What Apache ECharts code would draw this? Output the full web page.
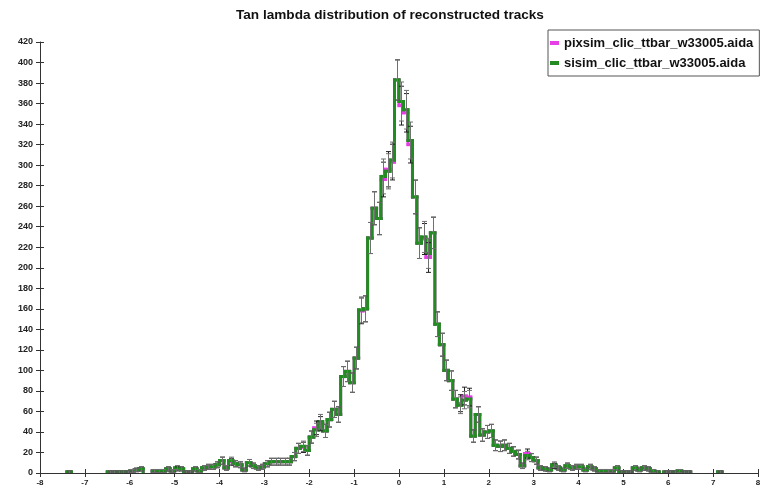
<!DOCTYPE html>
<html><head><meta charset="utf-8">
<script src="https://cdn.jsdelivr.net/npm/echarts@6/dist/echarts.min.js"></script>
<style>html,body{margin:0;padding:0;background:#fff}#c{width:768px;height:490px}</style>
</head><body><div id="c"></div>
<script>
// Histogram binning (bin edges from -8 to 8, width 0.1)
const binStart = -8;
const binWidth = 0.1;
const seriesNames = ['pixsim_clic_ttbar_w33005.aida', 'sisim_clic_ttbar_w33005.aida'];
const titleText = 'Tan lambda distribution of reconstructed tracks';

// counts per bin, bins starting at -8.0, -7.9, ... 7.9
const sisim = [
  0,0,0,0,0,0,1,0,0,0,          // -8.0 .. -7.1
  0,0,0,0,0,1,1,1,1,1,          // -7.0 .. -6.1
  2,3,4,0,0,2,2,2,4,2,          // -6.0 .. -5.1
  5,4,1,1,4,2,5,6,6,8,          // -5.0 .. -4.1
  12,5,12,9,8,3,10,7,5,6,       // -4.0 .. -3.1
  9,11,11,11,11,11,16,24,26,22, // -3.0 .. -2.1
  35,42,50,41,52,62,57,94,99,88,        // -2.0 .. -1.1
  112,159,160,229,258,248,289,294,305,383, // -1.0 .. -0.1
  362,354,324,269,224,230,214,234,145,125, // 0.0 .. 0.9
  100,90,72,66,71,72,36,57,37,40,       // 1.0 .. 1.9
  41,27,26,27,24,21,18,7,17,15,         // 2.0 .. 2.9
  12,5,4,3,8,5,3,7,5,6,                 // 3.0 .. 3.9
  6,3,6,4,2,2,2,2,5,1,                  // 4.0 .. 4.9
  1,1,5,3,5,4,2,1,0,1,                  // 5.0 .. 5.9
  1,1,2,1,1,0,0,0,0,0,                  // 6.0 .. 6.9
  0,1,0,0,0,0,0,0,0,0                   // 7.0 .. 7.9
];
const pixsim = [
  0,0,0,0,0,0,1,0,0,0,
  0,0,0,0,0,1,1,1,1,1,
  2,3,4,0,0,2,2,2,4,2,
  4,4,1,1,4,2,5,6,6,8,
  12,5,11,9,8,3,10,7,5,6,
  9,11,11,11,11,11,16,24,25,22,
  35,44,48,41,52,62,57,94,99,88,
  112,158,160,229,258,248,286,296,303,383,
  358,351,320,269,224,228,210,234,145,125,
  100,90,72,68,75,74,36,57,37,40,
  41,27,26,27,24,21,18,7,19,15,
  12,5,4,3,7,5,3,7,5,6,
  6,3,6,4,2,2,2,2,5,1,
  1,1,5,3,5,4,2,1,0,1,
  1,1,2,1,1,0,0,0,0,0,
  0,1,0,0,0,0,0,0,0,0
];

const xMin = -8, xMax = 8, xInterval = 1;
const yMin = 0, yMax = 420, yInterval = 20;

const colors = { pixsim: '#e83ee8', sisim: '#228b22', errPix: '#222222', errSi: '#707070' };

function histSeries(name, values, color, z) {
  const data = values.map((v, i) => [binStart + i * binWidth, binStart + (i + 1) * binWidth, v, i > 0 ? values[i - 1] : 0]);
  return {
    type: 'custom', name: name, z: z, data: data, clip: true,
    encode: { x: [0, 1], y: [2, 3] },
    itemStyle: { color: color },
    renderItem: function (params, api) {
      const x0 = api.value(0), x1 = api.value(1), v = api.value(2), vp = api.value(3);
      const children = [];
      const st = () => ({ stroke: color, lineWidth: 3, lineCap: 'square', fill: null });
      if (v > 0) {
        const a = api.coord([x0, v]), b = api.coord([x1, v]);
        children.push({ type: 'line', shape: { x1: a[0], y1: a[1], x2: b[0], y2: b[1] }, style: st() });
      }
      if (v !== vp && (v > 0 || vp > 0)) {
        const a = api.coord([x0, vp]), b = api.coord([x0, v]);
        children.push({ type: 'line', shape: { x1: a[0], y1: a[1], x2: b[0], y2: b[1] }, style: st() });
      }
      return { type: 'group', children: children };
    }
  };
}

function errSeries(name, values, color, z) {
  const data = values.map((v, i) => [binStart + (i + 0.5) * binWidth, v, Math.sqrt(v)]);
  return {
    type: 'custom', name: name, z: z, data: data, clip: true,
    encode: { x: 0, y: 1 },
    renderItem: function (params, api) {
      const x = api.value(0), v = api.value(1), e = api.value(2);
      if (!(v > 0)) return { type: 'group', children: [] };
      const lo = api.coord([x, v - e]), hi = api.coord([x, v + e]);
      const st = () => ({ stroke: color, lineWidth: 1, fill: null });
      const cx = Math.round(lo[0]) + 0.5;
      return { type: 'group', children: [
        { type: 'line', shape: { x1: cx, y1: lo[1], x2: cx, y2: hi[1] }, style: st() },
        { type: 'line', shape: { x1: cx - 2.5, y1: lo[1], x2: cx + 2.5, y2: lo[1] }, style: st() },
        { type: 'line', shape: { x1: cx - 2.5, y1: hi[1], x2: cx + 2.5, y2: hi[1] }, style: st() }
      ] };
    }
  };
}

const font = "'Liberation Sans', Arial, sans-serif";
const chart = echarts.init(document.getElementById('c'), null, { renderer: 'canvas' });
chart.setOption({
  animation: false,
  backgroundColor: '#ffffff',
  title: {
    text: titleText, left: 236, top: 8, padding: 0,
    textStyle: { fontFamily: font, fontSize: 13.6, fontWeight: 'bold', color: '#111' }
  },
  legend: {
    orient: 'vertical', left: 548, top: 30,
    padding: [5, 6, 5, 2], itemGap: 4, itemWidth: 9, itemHeight: 4,
    borderColor: '#555', borderWidth: 1, backgroundColor: '#fff',
    textStyle: { fontFamily: font, fontSize: 13, fontWeight: 'bold', color: '#111', lineHeight: 16 },
    data: [
      { name: seriesNames[0], icon: 'rect', itemStyle: { color: colors.pixsim } },
      { name: seriesNames[1], icon: 'rect', itemStyle: { color: colors.sisim } }
    ]
  },
  grid: { left: 40, right: 10, top: 42, bottom: 17, containLabel: false },
  xAxis: [
    { type: 'value', min: xMin, max: xMax, interval: xInterval, position: 'bottom',
      axisLine: { show: true, onZero: false, lineStyle: { color: '#333', width: 1 } },
      axisTick: { show: true, length: 4, lineStyle: { color: '#333' } },
      axisLabel: { fontFamily: font, fontSize: 8, fontWeight: 'bold', color: '#222', margin: 6, showMinLabel: true, showMaxLabel: true },
      splitLine: { show: false } },
    { type: 'value', min: xMin, max: xMax, interval: xInterval, position: 'bottom',
      axisLine: { show: false, onZero: false },
      axisTick: { show: true, inside: true, length: 4, lineStyle: { color: '#333' } },
      axisLabel: { show: false }, splitLine: { show: false } }
  ],
  yAxis: [
    { type: 'value', min: yMin, max: yMax, interval: yInterval, position: 'left',
      axisLine: { show: true, onZero: false, lineStyle: { color: '#333', width: 1 } },
      axisTick: { show: true, length: 4, lineStyle: { color: '#333' } },
      axisLabel: { fontFamily: font, fontSize: 9, fontWeight: 'bold', color: '#222', margin: 7, showMinLabel: true, showMaxLabel: true },
      splitLine: { show: false } },
    { type: 'value', min: yMin, max: yMax, interval: yInterval, position: 'left',
      axisLine: { show: false, onZero: false },
      axisTick: { show: true, inside: true, length: 4, lineStyle: { color: '#333' } },
      axisLabel: { show: false }, splitLine: { show: false } }
  ],
  series: [
    histSeries(seriesNames[0], pixsim, colors.pixsim, 2),
    histSeries(seriesNames[1], sisim, colors.sisim, 3),
    errSeries('err_pixsim', pixsim, colors.errPix, 4),
    errSeries('err_sisim', sisim, colors.errSi, 5)
  ]
});
</script>
</body></html>
